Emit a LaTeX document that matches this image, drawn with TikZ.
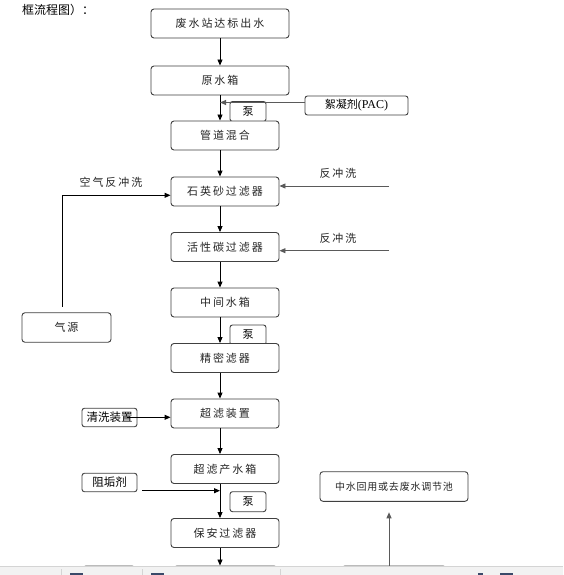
\documentclass[tikz,border=0pt]{standalone}
\usepackage{fontspec}
\usetikzlibrary{arrows.meta,calc}
\newfontfamily\cjk{Noto Sans CJK SC}
\newfontfamily\cjks[LetterSpace=18]{Noto Sans CJK SC}
\newfontfamily\cjkt[LetterSpace=8]{Noto Sans CJK SC}
\newfontfamily\tms{Liberation Serif}
\definecolor{boxline}{HTML}{404040}
\definecolor{gline}{HTML}{5A5A5A}
\definecolor{barcol}{HTML}{F2F2F2}
\definecolor{barsep}{HTML}{D4D4D4}
\definecolor{glyphc}{HTML}{3A4A6A}
\tikzset{
  x=1pt,y=-1pt,
  pbox/.style={draw=boxline,line width=0.9pt,rounded corners=3pt,fill=white,
    minimum width=108pt,minimum height=29pt,inner sep=0pt,
    font=\cjks\fontsize{11}{13}\selectfont,text=black!85},
  widebox/.style={pbox,minimum width=138pt},
  pumpbox/.style={draw=boxline,line width=0.9pt,rounded corners=2.5pt,fill=white,
    minimum width=36pt,minimum height=20pt,inner sep=0pt,
    font=\cjk\fontsize{11}{13}\selectfont},
  sidebox/.style={draw=boxline,line width=0.9pt,rounded corners=2.5pt,fill=white,
    minimum width=55pt,minimum height=18.5pt,inner sep=0pt,
    font=\cjk\fontsize{11.5}{13}\selectfont,text=black},
  lbl/.style={inner sep=0pt,font=\cjks\fontsize{11}{13}\selectfont,text=black!85},
  arr/.style={line width=0.9pt,draw=black,-{Triangle[length=6pt,width=5pt]}},
  garr/.style={line width=0.9pt,draw=gline,-{Triangle[length=6pt,width=5pt]}},
}
\begin{document}
\begin{tikzpicture}
\useasboundingbox (0,0) rectangle (563,575);
\fill[white] (0,0) rectangle (563,575);

% title
\node[anchor=west,inner sep=0pt,font=\cjk\fontsize{12}{14}\selectfont] (title) at (22,10) {框流程图）：};

% pumps (drawn first so boxes overlap them)
\node[pumpbox] (p1) at (248,111.5) {泵};
\node[pumpbox] (p2) at (248,335) {泵};
\node[pumpbox] (p3) at (248,501.7) {泵};

% main column
\node[widebox] (b1) at (220,23.5) {废水站达标出水};
\node[widebox] (b2) at (220,80.5) {原水箱};
\node[pbox] (b3) at (225,135.5) {管道混合};
\node[pbox] (b4) at (225,191.5) {石英砂过滤器};
\node[pbox] (b5) at (225,247) {活性碳过滤器};
\node[pbox] (b6) at (225,302.5) {中间水箱};
\node[pbox] (b7) at (225,358) {精密滤器};
\node[pbox] (b8) at (225,413.5) {超滤装置};
\node[pbox] (b9) at (225,469) {超滤产水箱};
\node[pbox] (b10) at (225,533) {保安过滤器};

% bottom partial boxes
\node[pbox,minimum width=103pt,minimum height=20pt,anchor=north] (b11) at (225.5,565.5) {};
\node[pbox,minimum width=52pt,minimum height=20pt,anchor=north] (bl) at (109,565.5) {};
\node[pbox,minimum width=104pt,minimum height=20pt,anchor=north] (br) at (394,565.5) {};

% side boxes
\node[draw=boxline,line width=0.9pt,rounded corners=2.5pt,fill=white,minimum width=103pt,minimum height=19pt,inner sep=0pt,font=\cjk\fontsize{11}{13}\selectfont] (pac) at (356.5,105.5) {絮凝剂{\tms\fontsize{12}{14}\selectfont(PAC)}};
\node[pbox,minimum width=89pt,minimum height=29.5pt] (qy) at (66.5,327.5) {气源};
\node[sidebox] (qx) at (109.5,417.5) {清洗装置};
\node[sidebox] (zg) at (109.5,482.5) {阻垢剂};
\node[pbox,minimum width=148pt,minimum height=29.6pt,font=\cjkt\fontsize{10}{12}\selectfont] (zs) at (394,486.5) {中水回用或去废水调节池};

% labels
\node[lbl] (l1) at (338,173) {反冲洗};
\node[lbl] (l2) at (338,238) {反冲洗};
\node[lbl] (l3) at (111,182) {空气反冲洗};

% main arrows
\draw[arr] (b1.south) -- (b2.north);
\draw[arr] (b2.south) -- (b3.north -| b2.south);
\foreach \a/\b in {b3/b4,b4/b5,b5/b6,b6/b7,b7/b8,b8/b9,b9/b10}{
  \draw[arr] (\a.south -| b1.south) -- (\b.north -| b1.south);
}
\draw[arr] (b10.south -| b1.south) -- (b11.north -| b1.south);

% PAC
\coordinate (pacy) at (0,102.5);
\draw[garr] (pac.west |- pacy) -- (b1.south |- pacy);

% backwash
\coordinate (bw1) at (389,186);
\coordinate (bw2) at (389,250.7);
\draw[garr] (bw1) -- (b4.east |- bw1);
\draw[garr] (bw2) -- (b5.east |- bw2);

% air
\coordinate (airstart) at (62.7,306.7);
\coordinate (airy) at (0,195.3);
\draw[arr] (airstart) |- (b4.west |- airy);

% cleaning
\coordinate (qxs) at (127,417.3);
\draw[arr] (qxs) -- (b8.west |- qxs);

% antiscalant
\coordinate (zgs) at (142,490.7);
\draw[arr] (zgs) -- (b1.south |- zgs);

% reuse
\coordinate (zsbot) at (389,566);
\coordinate (zstip) at (389,512.3);
\draw[garr] (zsbot) -- (zstip);

% bottom UI bar
\fill[barcol] (0,566.5) rectangle (563,575);
\draw[barsep,line width=0.6pt] (0,566.5) -- (563,566.5);
\foreach \xx in {61,142,280}{\draw[barsep,line width=0.6pt] (\xx,569) -- (\xx,575);}
\foreach \xa/\xb in {70/83,151/164,478/483,500/513}{\fill[glyphc] (\xa,573.3) rectangle (\xb,575);}
\end{tikzpicture}
\end{document}
